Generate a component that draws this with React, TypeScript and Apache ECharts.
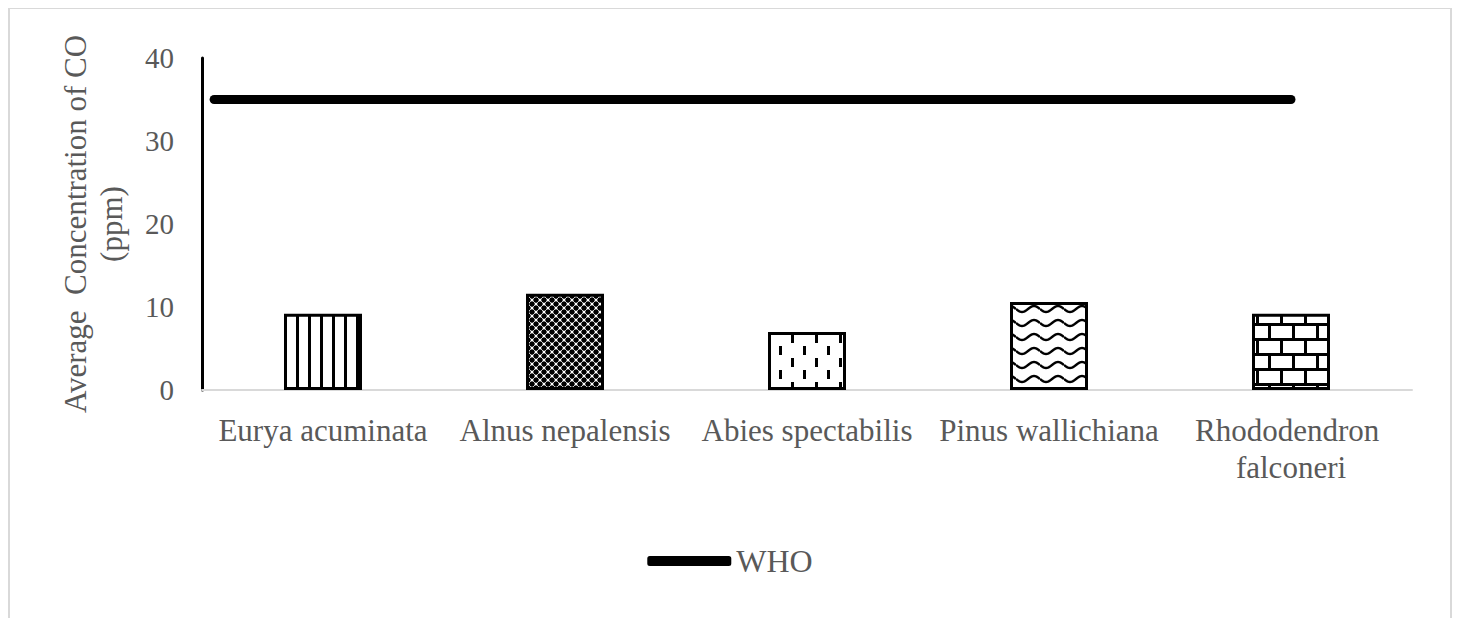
import React, { useEffect, useRef } from "react";
import * as echarts from "echarts";

const categories = [
  "Eurya acuminata",
  "Alnus nepalensis",
  "Abies spectabilis",
  "Pinus wallichiana",
  "Rhododendron falconeri",
];
const concentrations = [9.2, 11.6, 7.0, 10.6, 9.2];
const whoLimit = 35;
const whoSpan = [0.05, 4.5];
const yMin = 0;
const yMax = 40;
const yStep = 10;

const FONT = "'Liberation Serif', 'Times New Roman', serif";
const GRAY = "#595959";

function tile(w: number, h: number, draw: (c: CanvasRenderingContext2D) => void) {
  const cv = document.createElement("canvas");
  cv.width = w;
  cv.height = h;
  const ctx = cv.getContext("2d") as CanvasRenderingContext2D;
  ctx.fillStyle = "#ffffff";
  ctx.fillRect(0, 0, w, h);
  draw(ctx);
  return { image: cv, repeat: "repeat", imageWidth: w, imageHeight: h };
}

function makePatterns() {
  const vertical = tile(12, 12, (c) => {
    c.fillStyle = "#000";
    c.fillRect(0, 0, 3, 12);
  });
  const lattice = tile(8, 8, (c) => {
    c.fillStyle = "#000";
    c.fillRect(0, 0, 8, 8);
    c.fillStyle = "#fff";
    for (const [x, y] of [[0, 0], [8, 0], [0, 8], [8, 8], [4, 4]]) {
      c.beginPath();
      c.arc(x, y, 1.5, 0, Math.PI * 2);
      c.fill();
    }
    c.strokeStyle = "#fff";
    c.lineWidth = 0.8;
    c.beginPath();
    c.moveTo(0, 0);
    c.lineTo(8, 8);
    c.moveTo(8, 0);
    c.lineTo(0, 8);
    c.stroke();
  });
  const dashes = tile(24, 24, (c) => {
    c.fillStyle = "#000";
    c.fillRect(3, 2, 3, 9);
    c.fillRect(15, 14, 3, 9);
  });
  const waves = tile(24, 14, (c) => {
    c.strokeStyle = "#000";
    c.lineWidth = 2.4;
    c.beginPath();
    for (let x = 0; x <= 24; x += 1) {
      const y = 7 + 3 * Math.sin((x / 24) * Math.PI * 2);
      if (x === 0) c.moveTo(x, y);
      else c.lineTo(x, y);
    }
    c.stroke();
  });
  const bricks = tile(24, 30, (c) => {
    c.fillStyle = "#000";
    c.fillRect(0, 0, 24, 3);
    c.fillRect(0, 15, 24, 3);
    c.fillRect(0, 0, 3, 15);
    c.fillRect(12, 15, 3, 15);
  });
  return [vertical, lattice, dashes, waves, bricks];
}

export default function App() {
  const ref = useRef<HTMLDivElement>(null);

  useEffect(() => {
    if (!ref.current) return;
    const chart = echarts.init(ref.current, null, { renderer: "svg" });
    const patterns = makePatterns();

    chart.setOption({
      animation: false,
      backgroundColor: "#ffffff",
      graphic: [
        {
          type: "polyline",
          shape: { points: [[1, 612], [1, 0], [1443, 0], [1443, 612]] },
          style: { stroke: "#d9d9d9", lineWidth: 2, fill: "none" },
          silent: true,
        },
      ],
      grid: { left: 194, right: 40, top: 50, bottom: 228, containLabel: false },
      legend: {
        data: ["WHO"],
        left: "center",
        top: 532,
        icon: "roundRect",
        itemWidth: 84,
        itemHeight: 10,
        itemGap: 6,
        itemStyle: { color: "#000" },
        textStyle: { fontFamily: FONT, fontSize: 32, color: GRAY },
      },
      xAxis: [
        {
          type: "category",
          data: categories,
          axisLine: { show: true, lineStyle: { color: "#d9d9d9", width: 2 } },
          axisTick: { show: false },
          axisLabel: {
            interval: 0,
            margin: 22,
            fontFamily: FONT,
            fontSize: 31,
            lineHeight: 37,
            color: GRAY,
            width: 238,
            overflow: "break",
          },
        },
        {
          type: "value",
          min: 0,
          max: categories.length,
          show: false,
        },
      ],
      yAxis: {
        type: "value",
        min: yMin,
        max: yMax,
        interval: yStep,
        name: "Average  Concentration of CO\n(ppm)",
        nameLocation: "middle",
        nameGap: 73,
        nameTextStyle: { fontFamily: FONT, fontSize: 31, lineHeight: 36, color: GRAY },
        axisLine: { show: true, lineStyle: { color: "#000", width: 3 } },
        axisTick: { show: false },
        splitLine: { show: false },
        axisLabel: { margin: 28, fontFamily: FONT, fontSize: 29, color: GRAY },
      },
      series: [
        {
          name: "Concentration",
          type: "bar",
          xAxisIndex: 0,
          barWidth: 78,
          data: concentrations.map((v, i) => ({
            value: v,
            itemStyle: { color: patterns[i], borderColor: "#000", borderWidth: 3 },
          })),
        },
        {
          name: "WHO",
          type: "line",
          xAxisIndex: 1,
          symbol: "none",
          lineStyle: { color: "#000", width: 9, cap: "round" },
          itemStyle: { color: "#000" },
          data: whoSpan.map((x) => [x, whoLimit]),
        },
      ],
    });

    return () => chart.dispose();
  }, []);

  return <div ref={ref} style={{ width: 1444, height: 610 }} />;
}
